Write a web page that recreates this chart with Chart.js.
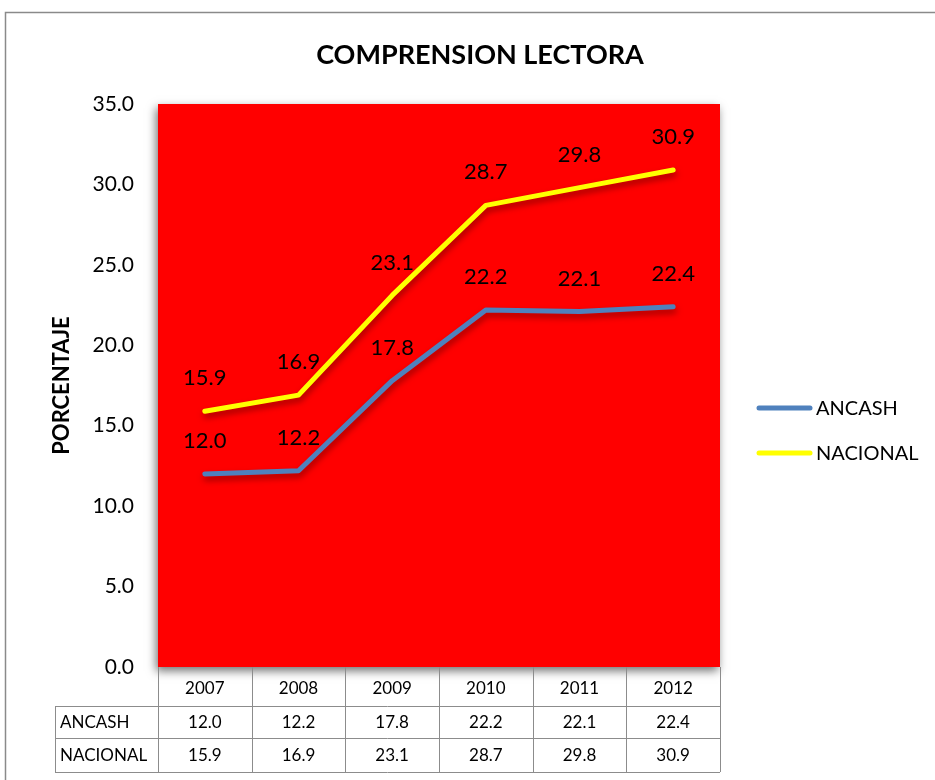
<!DOCTYPE html>
<html>
<head>
<meta charset="utf-8">
<script src="https://cdn.jsdelivr.net/npm/chart.js@4/dist/chart.umd.min.js"></script>
<style>
  html, body { margin: 0; padding: 0; background: #fff; }
  #wrap { width: 935px; height: 780px; position: relative; }
</style>
</head>
<body>
<div id="wrap"><canvas id="c" width="935" height="780"></canvas></div>
<script>
const years = ['2007', '2008', '2009', '2010', '2011', '2012'];
const ancash = [12.0, 12.2, 17.8, 22.2, 22.1, 22.4];
const nacional = [15.9, 16.9, 23.1, 28.7, 29.8, 30.9];
const seriesNames = ['ANCASH', 'NACIONAL'];
const chartTitle = 'COMPRENSION LECTORA';
const yTitle = 'PORCENTAJE';

const FONT = 'Lato, "Open Sans", "Liberation Sans", sans-serif';

// Frame, plot background, title, table, legend and value labels
const decor = {
  id: 'decor',
  beforeDraw(chart) {
    const { ctx, chartArea: a } = chart;
    ctx.save();
    ctx.fillStyle = '#fff';
    ctx.fillRect(0, 0, chart.width, chart.height);
    // outer frame (left and top edges)
    ctx.strokeStyle = '#8a8a8a';
    ctx.lineWidth = 1.5;
    ctx.beginPath();
    ctx.moveTo(5.5, chart.height);
    ctx.lineTo(5.5, 12.5);
    ctx.lineTo(chart.width, 12.5);
    ctx.stroke();
    // red plot area with soft shadow
    ctx.shadowColor = 'rgba(0,0,0,0.55)';
    ctx.shadowBlur = 9;
    ctx.shadowOffsetX = -2;
    ctx.shadowOffsetY = 4;
    ctx.fillStyle = '#ff0000';
    ctx.fillRect(a.left, a.top, a.right - a.left, a.bottom - a.top);
    ctx.restore();

    // title
    ctx.save();
    ctx.fillStyle = '#000';
    ctx.font = `bold 27px ${FONT}`;
    ctx.textAlign = 'center';
    ctx.textBaseline = 'middle';
    ctx.fillText(chartTitle, 480, 55);
    ctx.restore();
  },
  beforeDatasetDraw(chart) {
    const ctx = chart.ctx;
    ctx.save();
    ctx.shadowColor = 'rgba(90,0,0,0.6)';
    ctx.shadowBlur = 6;
    ctx.shadowOffsetX = 1;
    ctx.shadowOffsetY = 4;
  },
  afterDatasetDraw(chart) {
    chart.ctx.restore();
  },
  afterDraw(chart) {
    const { ctx, chartArea: a, scales } = chart;
    const x = scales.x;
    const n = years.length;
    const colW = (a.right - a.left) / n;
    const labelLeft = 55;
    const rows = [a.bottom, 706, 738, 772];

    // value labels above points
    ctx.save();
    ctx.fillStyle = '#000';
    ctx.font = `22px ${FONT}`;
    ctx.textAlign = 'center';
    ctx.textBaseline = 'middle';
    chart.data.datasets.forEach((ds, di) => {
      const meta = chart.getDatasetMeta(di);
      meta.data.forEach((pt, i) => {
        ctx.fillText(ds.data[i].toFixed(1), pt.x, pt.y - 33);
      });
    });
    ctx.restore();

    // data table
    ctx.save();
    ctx.strokeStyle = '#8c8c8c';
    ctx.lineWidth = 1;
    ctx.beginPath();
    ctx.moveTo(labelLeft, rows[1] + 0.5); ctx.lineTo(a.right, rows[1] + 0.5);
    ctx.moveTo(labelLeft, rows[2] + 0.5); ctx.lineTo(a.right, rows[2] + 0.5);
    ctx.moveTo(labelLeft, rows[3] + 0.5); ctx.lineTo(a.right, rows[3] + 0.5);
    for (let i = 0; i <= n; i++) {
      const xx = Math.round(a.left + i * colW) + 0.5;
      ctx.moveTo(xx, rows[0]); ctx.lineTo(xx, rows[3]);
    }
    ctx.moveTo(labelLeft + 0.5, rows[1]); ctx.lineTo(labelLeft + 0.5, rows[3]);
    ctx.stroke();

    ctx.fillStyle = '#000';
    ctx.font = `17px ${FONT}`;
    ctx.textBaseline = 'middle';
    ctx.textAlign = 'center';
    years.forEach((yr, i) => {
      ctx.fillText(yr, x.getPixelForValue(i), (rows[0] + rows[1]) / 2 + 2);
    });
    const tableSeries = [ancash, nacional];
    tableSeries.forEach((vals, r) => {
      const cy = (rows[r + 1] + rows[r + 2]) / 2 + 1;
      ctx.textAlign = 'left';
      ctx.fillText(seriesNames[r], labelLeft + 5, cy);
      ctx.textAlign = 'center';
      vals.forEach((v, i) => ctx.fillText(v.toFixed(1), x.getPixelForValue(i), cy));
    });
    ctx.restore();

    // legend
    ctx.save();
    ctx.font = `20px ${FONT}`;
    ctx.textBaseline = 'middle';
    ctx.textAlign = 'left';
    ctx.lineCap = 'round';
    ctx.lineWidth = 5;
    chart.data.datasets.forEach((ds, i) => {
      const ly = 408 + i * 45;
      ctx.strokeStyle = ds.borderColor;
      ctx.beginPath();
      ctx.moveTo(759, ly); ctx.lineTo(810, ly);
      ctx.stroke();
      ctx.fillStyle = '#000';
      ctx.fillText(ds.label, 816, ly + 1);
    });
    ctx.restore();
  }
};

new Chart(document.getElementById('c'), {
  type: 'line',
  data: {
    labels: years,
    datasets: [
      { label: seriesNames[0], data: ancash, borderColor: '#4f81bd', borderWidth: 5, pointRadius: 0, tension: 0, borderCapStyle: 'round', borderJoinStyle: 'round' },
      { label: seriesNames[1], data: nacional, borderColor: '#ffff00', borderWidth: 5, pointRadius: 0, tension: 0, borderCapStyle: 'round', borderJoinStyle: 'round' }
    ]
  },
  options: {
    responsive: false,
    animation: false,
    layout: { padding: { left: 40, right: 215, top: 104, bottom: 113 } },
    plugins: {
      legend: { display: false },
      title: { display: false },
      tooltip: { enabled: false }
    },
    scales: {
      x: { display: false, offset: true },
      y: {
        min: 0, max: 35,
        afterFit(s) { s.width = 118; },
        border: { display: false },
        grid: { display: false, drawTicks: false },
        ticks: {
          stepSize: 5,
          padding: 24,
          color: '#000',
          font: { family: FONT, size: 21 },
          callback: v => Number(v).toFixed(1)
        },
        title: {
          display: true,
          text: yTitle,
          color: '#000',
          padding: { top: 9, bottom: 0 },
          font: { family: FONT, size: 22, weight: 'bold', lineHeight: 1.2 }
        }
      }
    }
  },
  plugins: [decor]
});
</script>
</body>
</html>
